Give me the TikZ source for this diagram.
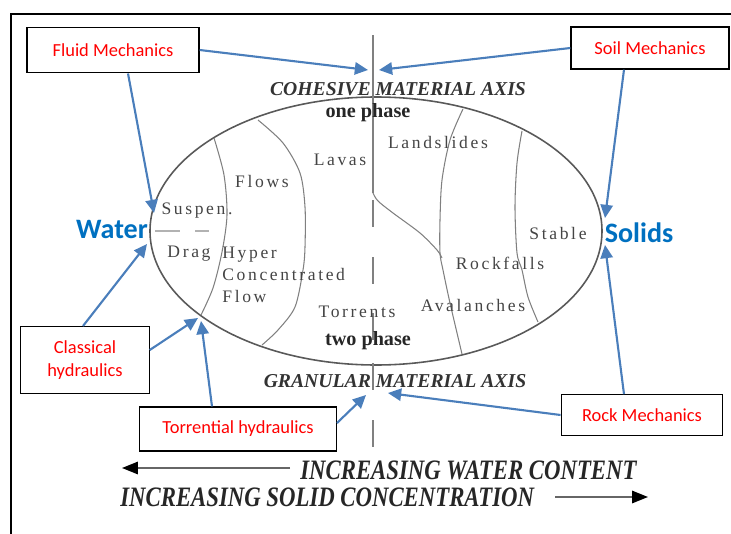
\documentclass[tikz,border=0pt]{standalone}
\usepackage{fontspec}
\setmainfont{Liberation Serif}
\newfontfamily\calibri{Carlito}
\newfontfamily\spaced[LetterSpace=15]{Liberation Serif}
\usepackage{graphicx}
\usepackage{xcolor}
\usetikzlibrary{arrows.meta, positioning, calc}
\definecolor{linkblue}{HTML}{4A7EBB}
\definecolor{labelblue}{HTML}{0070C0}
\definecolor{inkgray}{HTML}{444444}

\begin{document}
\begin{tikzpicture}[
    x=0.02cm, y=-0.02cm,
    box/.style={draw, fill=white, line width=0.7pt, text=red, align=center,
                font=\calibri\fontsize{10.5}{13}\selectfont},
    link/.style={draw=linkblue, line width=1.2pt,
                 -{Triangle[length=7.5pt, width=7pt]}},
    zone/.style={font=\spaced\fontsize{10}{12.5}\selectfont, text=inkgray, inner sep=0pt},
    phase/.style={font=\bfseries\fontsize{11.5}{14}\selectfont, text=black!85, inner sep=0pt},
    axisname/.style={font=\bfseries\itshape\fontsize{11.2}{13}\selectfont, text=black!80, inner sep=0pt},
    trend/.style={font=\bfseries\itshape\fontsize{16}{18}\selectfont, text=black!85, inner sep=0pt},
    trendarrow/.style={draw=black!60, line width=1pt,
                       -{Triangle[length=9pt, width=7pt, color=black]}},
    side/.style={font=\calibri\bfseries\fontsize{16}{19}\selectfont, text=labelblue, inner sep=0pt},
    border/.style={draw=black!65, line width=0.9pt},
    divider/.style={draw=black!50, line width=0.6pt}
  ]
  \useasboundingbox (0,0) rectangle (731,534);

  % --- marco ---
  \draw[line width=1.1pt] (11,540) -- (11,14) -- (740,14);

  % --- elipse y divisiones ---
  \draw[border] (376,231) ellipse [x radius=226, y radius=134];
  \draw[divider] plot[smooth] coordinates {(214,138) (224,175) (227,215) (222,252) (213,288) (201,315)};
  \draw[divider] plot[smooth] coordinates {(258,120) (283,143) (300,173) (305,207) (305,247) (303,270) (295,307) (278,330) (262,345)};
  \draw[divider] plot[smooth] coordinates {(463,109) (450,140) (442,180) (440,220) (440,253) (443,270) (450,303) (462,354)};
  \draw[divider] plot[smooth] coordinates {(522,131) (517,163) (515,207) (517,253) (522,270) (528,297) (538,322)};

  % --- eje vertical ---
  \draw[divider] (373,35) -- (373,193);
  \draw[divider] plot[smooth] coordinates {(373,193) (378,201) (393,213) (420,233) (437,250) (442,258)};
  \foreach \y in {200,257,313,363,420}
    \draw[divider] (373,\y) -- ++(0,27);
  \draw[draw=black!30, line width=1.2pt] (155,231) -- (180,231) (195,231) -- (209,231);

  % --- textos de la figura ---
  \node[axisname] (cohesive) at (398,89) {COHESIVE MATERIAL AXIS};
  \node[phase] (onephase) at (368,113) {one phase};
  \node[zone] (landslides) at (438,142) {Landslides};
  \node[zone] (lavas) at (340,160) {Lavas};
  \node[zone] (flows) at (262,181) {Flows};
  \node[zone] (suspen) at (197,211) {Suspen.};
  \node[zone] (stable) at (558,233) {Stable};
  \node[zone] (drag) at (189,254) {Drag};
  \node[zone, align=left, anchor=north west] (hyper) at (222,247) {Hyper\\Concentrated\\Flow};
  \node[zone] (rockfalls) at (500,263) {Rockfalls};
  \node[zone] (torrents) at (357,312) {Torrents};
  \node[zone] (avalanches) at (473,305) {Avalanches};
  \node[phase] (twophase) at (368,341) {two phase};
  \node[axisname] (granular) at (395,381) {GRANULAR MATERIAL AXIS};

  \node[side] (water) at (112,229) {Water};
  \node[side] (solids) at (639,233) {Solids};

  % --- tendencias ---
  \node[trend, anchor=west] (wettrend) at (300,470) {\scalebox{0.81}[1]{INCREASING WATER CONTENT}};
  \node[trend, anchor=west] (solidtrend) at (120,497) {\scalebox{0.81}[1]{INCREASING SOLID CONCENTRATION}};
  \coordinate (wetstart) at (290,468);
  \coordinate (wetend) at (122,468);
  \coordinate (solidstart) at (555,497);
  \coordinate (solidend) at (648,497);
  \draw[trendarrow] (wetstart) -- (wetend);
  \draw[trendarrow] (solidstart) -- (solidend);

  % --- disciplinas ---
  \node[box, minimum width=98pt, minimum height=26pt] (fluid) at (113,50) {Fluid Mechanics};
  \node[box, minimum width=90pt, minimum height=24pt] (soil) at (650,48) {Soil Mechanics};
  \node[box, minimum width=73pt, minimum height=38pt] (classical) at (85,360) {Classical\\hydraulics};
  \node[box, minimum width=112pt, minimum height=25pt] (torrential) at (238,429) {Torrential hydraulics};
  \node[box, minimum width=92pt, minimum height=23pt] (rock) at (642,415) {Rock Mechanics};

  % puntas de flecha sobre la elipse
  \coordinate (cohleft) at (368,70);
  \coordinate (cohright) at (379,70);
  \coordinate (suspentip) at (154,213);
  \coordinate (watertip) at (147,244);
  \coordinate (flowtip) at (198,318);
  \coordinate (flowtip2) at (201,321);
  \coordinate (granleft) at (366,395);
  \coordinate (granright) at (388,393);
  \coordinate (solidtop) at (605,218);
  \coordinate (solidbot) at (605,245);

  \draw[link] (fluid.east) -- (cohleft);
  \draw[link] (soil.west) -- (cohright);
  \draw[link] ($(fluid.south)+(15,0)$) -- (suspentip);
  \draw[link] ($(soil.south)+(-26,0)$) -- (solidtop);
  \draw[link] ($(classical.north)+(-2,0)$) -- (watertip);
  \draw[link] ($(classical.east)+(0,-10)$) -- (flowtip);
  \draw[link] ($(torrential.north)+(-26,0)$) -- (flowtip2);
  \draw[link] ($(torrential.east)+(0,-6)$) -- (granleft);
  \draw[link] (rock.west) -- (granright);
  \draw[link] ($(rock.north)+(-18,0)$) -- (solidbot);
\end{tikzpicture}
\end{document}
